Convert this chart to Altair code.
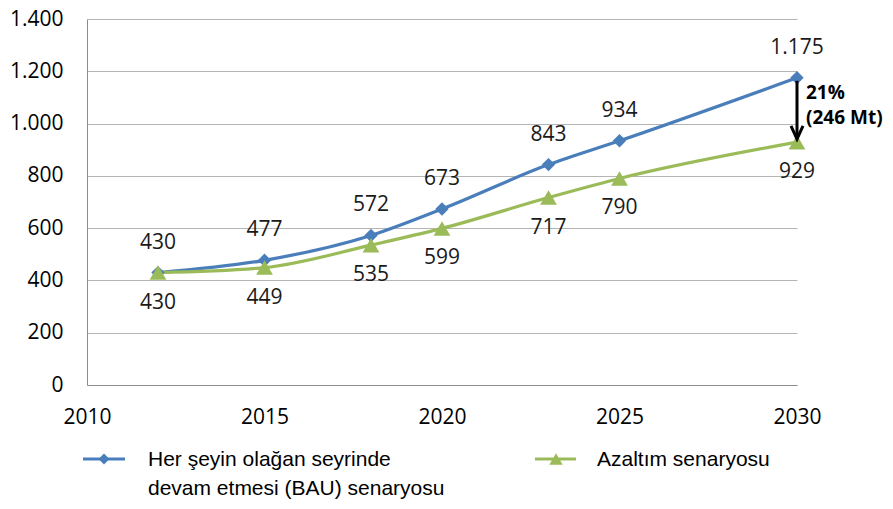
import altair as alt
import pandas as pd

# ---- data ----
years = [2012, 2015, 2018, 2020, 2023, 2025, 2030]
bau = [430, 477, 572, 673, 843, 934, 1175]
azaltim = [430, 449, 535, 599, 717, 790, 929]
x_ticks = [2010, 2015, 2020, 2025, 2030]
y_ticks = [0, 200, 400, 600, 800, 1000, 1200, 1400]
bau_legend = ["Her şeyin olağan seyrinde", "devam etmesi (BAU) senaryosu"]
az_legend = ["Azaltım senaryosu"]
gap_pct = ["21%"]
gap_mt = ["(246 Mt)"]

BLUE = "#4A7EBB"
GREEN = "#9BBB59"
NUMFONT = "Open Sans"


def fmt(v):
    return f"{v:,}".replace(",", ".")


df = pd.DataFrame({
    "year": years,
    "bau": bau,
    "az": azaltim,
    "bau_lbl": [fmt(v) for v in bau],
    "az_lbl": [fmt(v) for v in azaltim],
})
arr = pd.DataFrame({"year": [years[-1]], "top": [bau[-1]], "bot": [azaltim[-1]],
                    "pct": gap_pct, "mt": gap_mt})
dummy = pd.DataFrame({"k": [0]})

x_axis = alt.Axis(values=x_ticks, format="d", title=None, grid=False, ticks=False,
                  labelFlush=False, labelPadding=21, domainColor="#8C8C8C", domainWidth=1)
y_axis = alt.Axis(values=y_ticks, title=None, ticks=False, labelPadding=24,
                  labelExpr="replace(format(datum.value, ','), ',', '.')",
                  gridColor="#B4B4B4", domainColor="#8C8C8C", domainWidth=1)
xs = alt.Scale(domain=[2010, 2030], nice=False, zero=False)
ys = alt.Scale(domain=[0, 1400], nice=False)

X = alt.X("year:Q", scale=xs, axis=x_axis)


def Y(field):
    return alt.Y(field, type="quantitative", scale=ys, axis=y_axis)


base = alt.Chart(df)

bau_line = base.mark_line(color=BLUE, strokeWidth=3.2, interpolate="monotone").encode(x=X, y=Y("bau"))
bau_pts = base.mark_point(shape="diamond", filled=True, size=180, color=BLUE, opacity=1).encode(x=X, y=Y("bau"))
az_line = base.mark_line(color=GREEN, strokeWidth=3.2, interpolate="monotone").encode(x=X, y=Y("az"))
az_pts = base.mark_point(shape="triangle-up", filled=True, size=280, color=GREEN, opacity=1).encode(x=X, y=Y("az"))

bau_txt = base.mark_text(dy=-30, font=NUMFONT, fontSize=21, color="#1A1A1A").encode(
    x=X, y=Y("bau"), text="bau_lbl:N")
az_txt = base.mark_text(dy=30, font=NUMFONT, fontSize=21, color="#1A1A1A").encode(
    x=X, y=Y("az"), text="az_lbl:N")

ac = alt.Chart(arr)
arrow = ac.mark_rule(color="black", strokeWidth=3, yOffset=3, y2Offset=-3).encode(
    x=X, y=Y("top"), y2="bot:Q")
head = ac.mark_point(shape="M-1,-2.2L0,0L1,-2.2", size=144, filled=False, color="black",
                     strokeWidth=3, opacity=1, yOffset=-3).encode(x=X, y=Y("bot"))
pct_txt = ac.mark_text(align="left", dx=9, dy=15, font=NUMFONT, fontSize=19,
                       fontWeight="bold", color="#000").encode(x=X, y=Y("top"), text="pct:N")
mt_txt = ac.mark_text(align="left", dx=9, dy=40, font=NUMFONT, fontSize=19,
                      fontWeight="bold", color="#000").encode(x=X, y=Y("top"), text="mt:N")

# ---- manual legend below the plot ----
dc = alt.Chart(dummy)
LF = dict(font="Liberation Sans", fontSize=21, color="#000", align="left", baseline="alphabetic")
leg = [
    dc.mark_rule(color=BLUE, strokeWidth=3).encode(x=alt.value(-4), x2=alt.value(38), y=alt.value(440)),
    dc.mark_point(shape="diamond", filled=True, size=120, color=BLUE, opacity=1).encode(
        x=alt.value(17), y=alt.value(440)),
    dc.mark_text(**LF).encode(x=alt.value(61), y=alt.value(447), text=alt.value(bau_legend[0])),
    dc.mark_text(**LF).encode(x=alt.value(61), y=alt.value(476), text=alt.value(bau_legend[1])),
    dc.mark_rule(color=GREEN, strokeWidth=3).encode(x=alt.value(448), x2=alt.value(489), y=alt.value(440)),
    dc.mark_point(shape="triangle-up", filled=True, size=180, color=GREEN, opacity=1).encode(
        x=alt.value(469), y=alt.value(440)),
    dc.mark_text(**LF).encode(x=alt.value(510), y=alt.value(447), text=alt.value(az_legend[0])),
]

chart = alt.layer(
    bau_line, az_line, bau_pts, az_pts, bau_txt, az_txt, arrow, head, pct_txt, mt_txt, *leg
).properties(
    width=710, height=366,
    autosize=alt.AutoSizeParams(type="none"),
    padding={"left": 79, "top": 11, "right": 88, "bottom": 116},
).configure_view(stroke=None).configure_axis(
    labelFont=NUMFONT, labelFontSize=21, labelColor="#000"
)

chart.save("out.html", embed_options={"renderer": "svg", "actions": False})
